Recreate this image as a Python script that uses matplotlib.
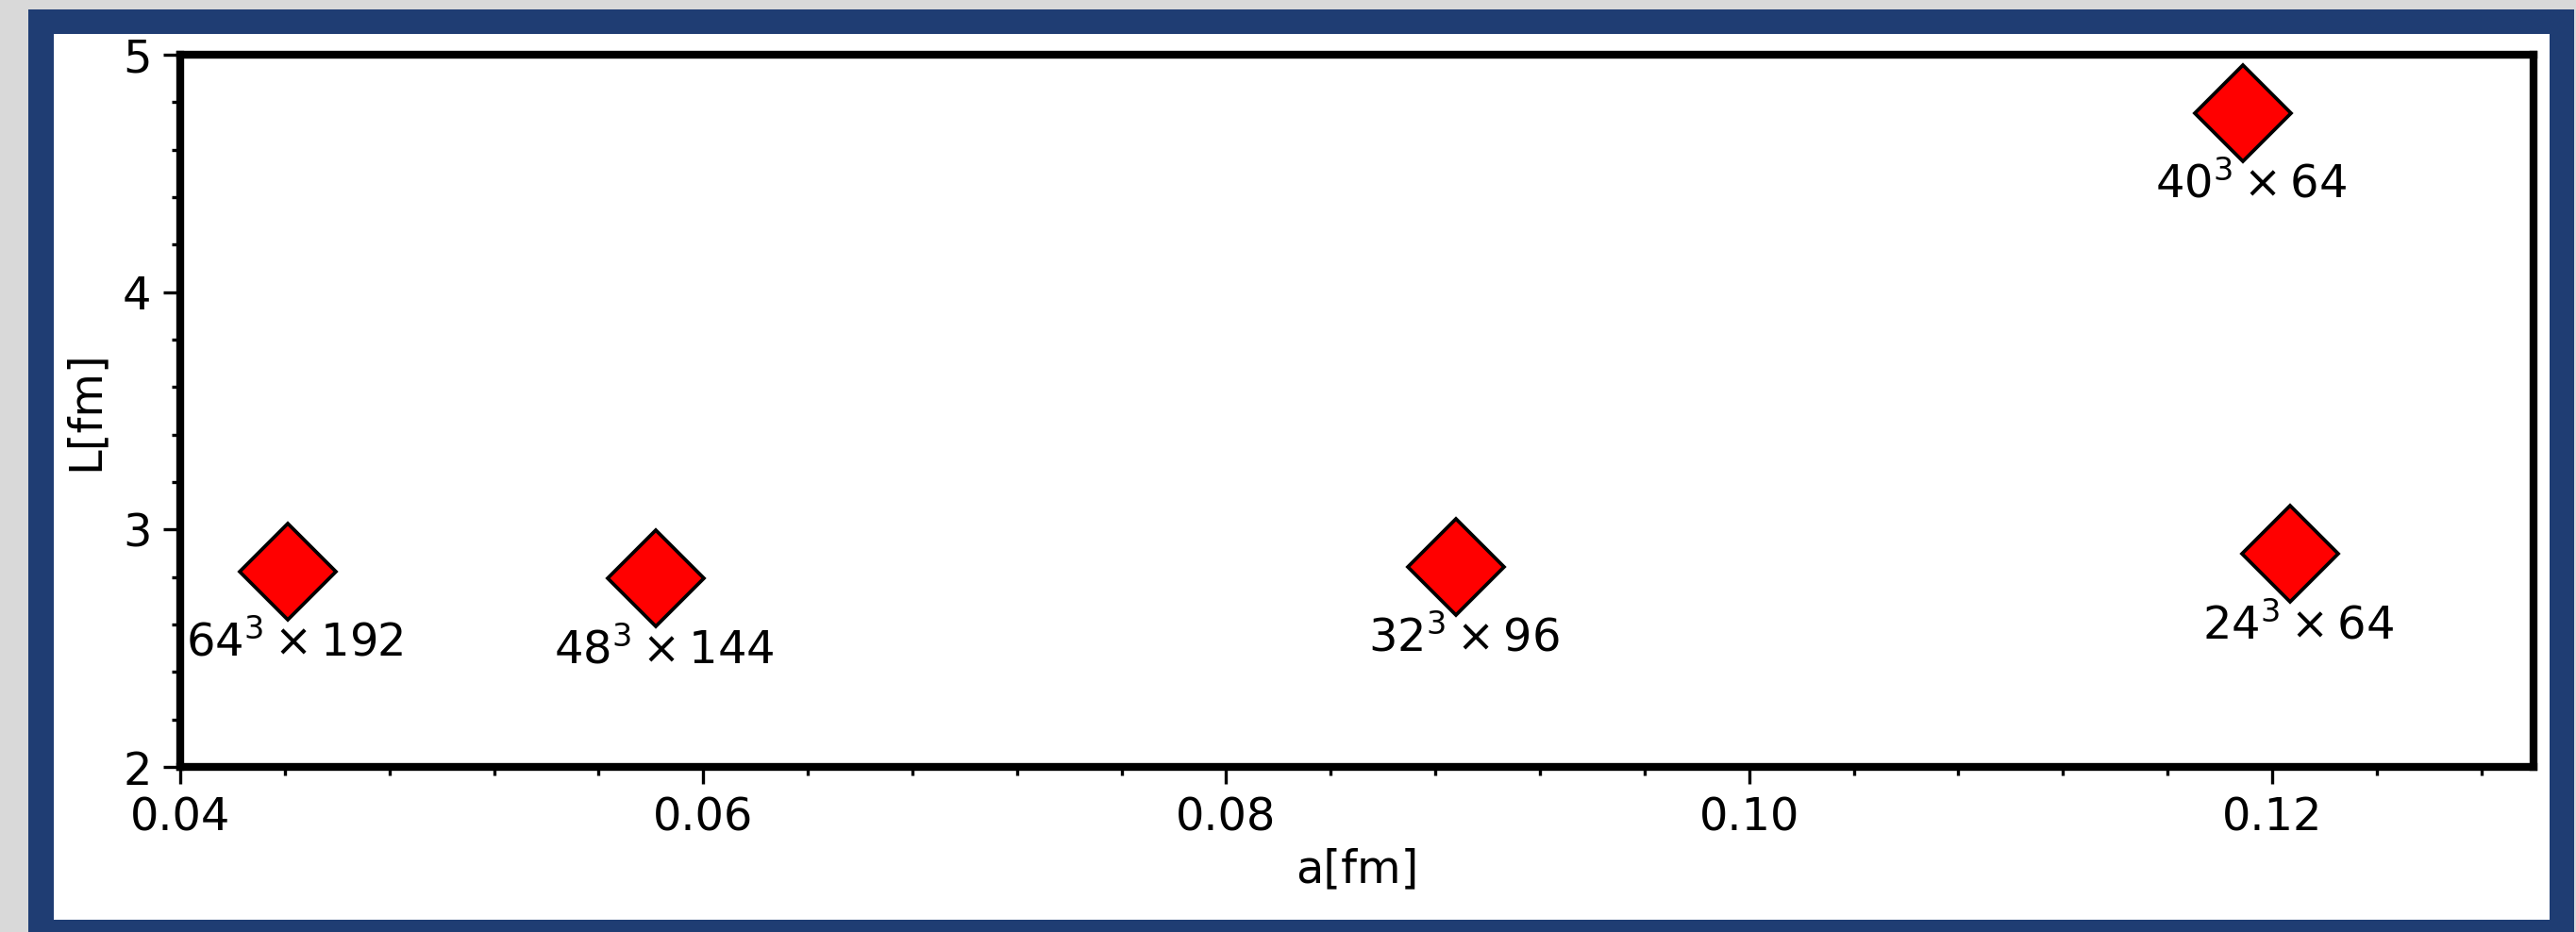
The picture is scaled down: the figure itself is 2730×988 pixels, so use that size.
import matplotlib
matplotlib.use('Agg')
import matplotlib.pyplot as plt
from matplotlib.patches import Rectangle
from matplotlib.ticker import MultipleLocator

# lattice spacing a[fm] and box size L[fm] per ensemble
a_fm = [0.0441, 0.0582, 0.0888, 0.1207, 0.1189]
L_fm = [2.824, 2.794, 2.843, 2.897, 4.754]
ensembles = [r'$64^3\times192$', r'$48^3\times144$', r'$32^3\times96$',
             r'$24^3\times64$', r'$40^3\times64$']

W, H = 2730, 988
fig = plt.figure(figsize=(W / 300, H / 300), dpi=300, facecolor='#d9d9d9')

# blue frame with white panel inside
fig.patches.append(Rectangle((30 / W, 0), 2698 / W, 978 / H, transform=fig.transFigure,
                             facecolor='#1f3d73', edgecolor='none', zorder=-2))
fig.patches.append(Rectangle((57 / W, 13 / H), 2645 / W, 939 / H, transform=fig.transFigure,
                             facecolor='white', edgecolor='none', zorder=-1))

ax = fig.add_axes([191 / W, 1 - 813 / H, (2685 - 191) / W, (813 - 58) / H])
ax.patch.set_alpha(0)

ax.plot(a_fm, L_fm, linestyle='none', marker='D', ms=17.3, mfc='red', mec='black', mew=0.9)
for x, y, lab in zip(a_fm, L_fm, ensembles):
    ax.annotate(lab, (x, y), xytext=(1.9, -12.6), textcoords='offset points',
                ha='center', va='top', fontsize=11.5)

ax.set_xlim(0.04, 0.13)
ax.set_ylim(2, 5)
ax.xaxis.set_major_locator(MultipleLocator(0.02))
ax.xaxis.set_minor_locator(MultipleLocator(0.004))
ax.yaxis.set_major_locator(MultipleLocator(1))
ax.yaxis.set_minor_locator(MultipleLocator(0.2))
ax.tick_params(which='major', length=4.3, width=0.8, labelsize=11.5, pad=3)
ax.tick_params(which='minor', length=2.2, width=0.8)
for s in ax.spines.values():
    s.set_linewidth(2)

ax.set_xlabel('a[fm]', fontsize=11.5, labelpad=2)
ax.set_ylabel('L[fm]', fontsize=11.5, labelpad=4)

fig.savefig('out.png', dpi=300, facecolor=fig.get_facecolor())
